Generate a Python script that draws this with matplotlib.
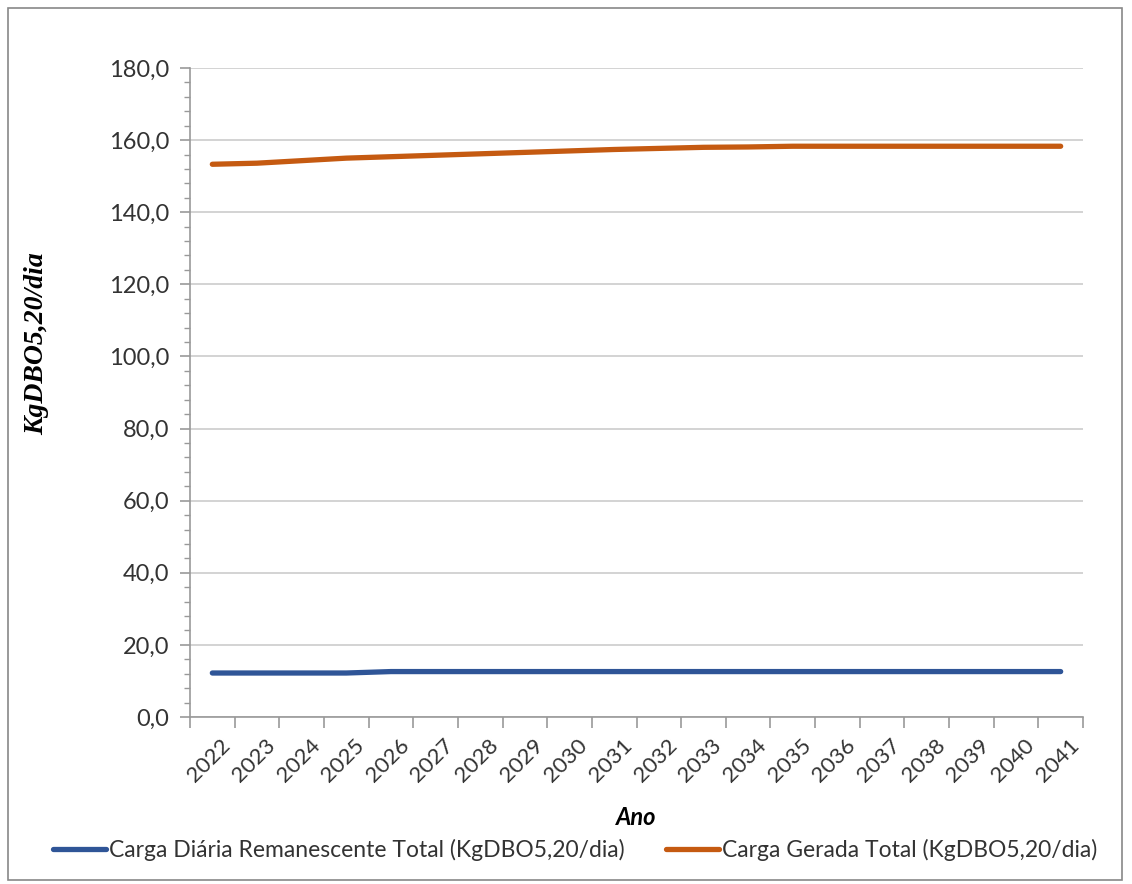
import matplotlib
matplotlib.use("Agg")
import matplotlib.pyplot as plt
import numpy as np
from matplotlib.ticker import FuncFormatter, MultipleLocator, FixedLocator
from matplotlib.patches import Rectangle

anos = [str(a) for a in range(2022, 2042)]
remanescente = [12.2, 12.2, 12.2, 12.2, 12.6, 12.6, 12.6, 12.6, 12.6, 12.6,
                12.6, 12.6, 12.6, 12.6, 12.6, 12.6, 12.6, 12.6, 12.6, 12.6]
gerada = [153.3, 153.6, 154.3, 155.0, 155.4, 155.8, 156.2, 156.6, 157.0, 157.4,
          157.7, 158.0, 158.1, 158.3, 158.3, 158.3, 158.3, 158.3, 158.3, 158.3]

serie1 = "Carga Diária Remanescente Total (KgDBO5,20/dia)"
serie2 = "Carga Gerada Total (KgDBO5,20/dia)"

plt.rcParams['font.family'] = ['Lato', 'DejaVu Sans']

fig = plt.figure(figsize=(11.32, 8.84), dpi=100)
fig.patches.append(Rectangle((8/1132, 4/884), 1114/1132, 872/884, transform=fig.transFigure,
                             fill=False, edgecolor='#888888', linewidth=1.2))
ax = fig.add_axes([190/1132, 1-717/884, (1083-190)/1132, (717-68)/884])

x = np.arange(len(anos))
l1, = ax.plot(x, remanescente, color='#2F5597', linewidth=3.8, solid_capstyle='round', label=serie1)
l2, = ax.plot(x, gerada, color='#C55A11', linewidth=3.8, solid_capstyle='round', label=serie2)

ax.set_xlim(-0.5, len(anos) - 0.5)
ax.set_ylim(0, 180)
ax.yaxis.set_major_locator(MultipleLocator(20))
ax.yaxis.set_minor_locator(MultipleLocator(4))
ax.yaxis.set_major_formatter(FuncFormatter(lambda v, p: f"{v:.1f}".replace('.', ',')))
ax.grid(axis='y', which='major', color='#c8c8c8', linewidth=1.1)
ax.set_axisbelow(True)

# category boundary tick marks (no labels)
ax.xaxis.set_major_locator(FixedLocator(np.arange(-0.5, len(anos))))
ax.xaxis.set_major_formatter(FuncFormatter(lambda v, p: ""))
# label anchors (no marks), nudged slightly right like the reference
ax.set_xticks(x + 0.18, minor=True)
ax.set_xticklabels(anos, minor=True, rotation=45, ha='right', va='top',
                   rotation_mode='anchor', fontsize=16, color='#333333')
ax.tick_params(axis='x', which='major', length=8, color='#999999', width=1.2)
ax.tick_params(axis='x', which='minor', length=0, pad=13)
ax.tick_params(axis='y', which='major', length=7, color='#999999', width=1.2, labelsize=17, labelcolor='#333333', pad=8)
ax.tick_params(axis='y', which='minor', length=4, color='#999999', width=1.0)

for s in ['top', 'right']:
    ax.spines[s].set_visible(False)
for s in ['left', 'bottom']:
    ax.spines[s].set_color('#999999')
    ax.spines[s].set_linewidth(1.2)

ax.set_ylabel("KgDBO5,20/dia", fontsize=20, fontweight='bold', fontstyle='italic',
              family=['Liberation Serif', 'DejaVu Serif'])
ax.yaxis.set_label_coords(-0.158, 0.575)
ax.set_xlabel("Ano", fontsize=17, fontweight='bold', fontstyle='italic')
ax.xaxis.set_label_coords(0.5, -0.137)

fig.legend(handles=[l1, l2], loc='center', bbox_to_anchor=(0.508, 1-850/884), ncol=2,
           frameon=False, fontsize=16.5, handlelength=2.3, handletextpad=0.15, columnspacing=1.8,
           labelcolor='#333333')

fig.savefig("out.png", dpi=100)
